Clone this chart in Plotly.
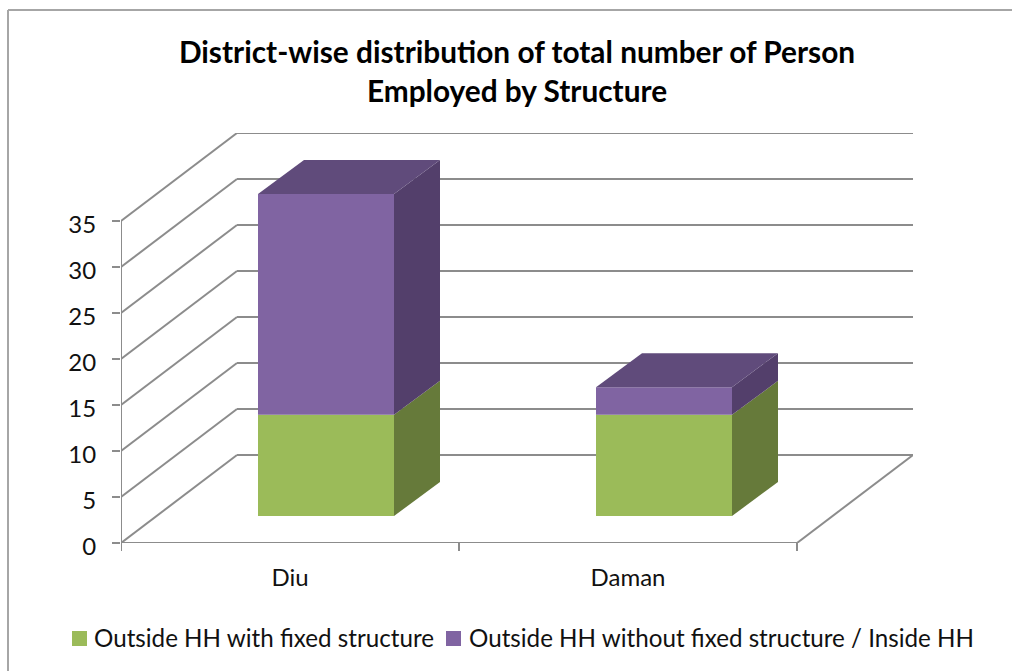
import plotly.graph_objects as go

# Data
categories = ["Diu", "Daman"]
with_fixed = [11, 11]
without_fixed = [24, 3]
series_names = ["Outside HH with fixed structure", "Outside HH without fixed structure / Inside HH"]
y_ticks = [0, 5, 10, 15, 20, 25, 30, 35]
title = "<b>District-wise distribution of total number of Person<br>Employed by Structure</b>"

# Styles / pseudo-3D projection, in axis units
W, H = 1012, 671
L, R, T, B = 121, 99, 133, 128
PX_X = 338.0          # pixels per category
PX_Y = 46.0 / 5       # pixels per value unit
x_lo = -0.5
x_hi = x_lo + (W - L - R) / PX_X
y_hi = (H - T - B) / PX_Y
WALL_DX, WALL_DY = 116 / PX_X, 88 / PX_Y
BAR_SHIFT_X = 36 / PX_X
FLOOR = 27 / PX_Y
BAR_W = 136 / PX_X
DEPTH_DX, DEPTH_DY = 46 / PX_X, 34 / PX_Y
GRAY = "#8C8C8C"
GREEN, GREEN_SIDE = "#9BBB59", "#667A3A"
PURPLE, PURPLE_SIDE, PURPLE_TOP = "#8064A2", "#533F6B", "#604B7B"
FONT = "Lato, Carlito, Calibri, sans-serif"

xpos = [i + BAR_SHIFT_X for i in range(len(categories))]
fig = go.Figure()

# front faces
fig.add_trace(go.Bar(x=xpos, y=with_fixed, base=[FLOOR] * len(xpos), width=BAR_W,
                     name=series_names[0], showlegend=False, marker=dict(color=GREEN, line=dict(width=0))))
fig.add_trace(go.Bar(x=xpos, y=without_fixed, base=[FLOOR + v for v in with_fixed], width=BAR_W,
                     name=series_names[1], showlegend=False, marker=dict(color=PURPLE, line=dict(width=0))))

def face(xs, ys, color):
    fig.add_trace(go.Scatter(x=xs, y=ys, mode="lines", fill="toself", fillcolor=color,
                             line=dict(width=0, color=color), showlegend=False, hoverinfo="skip"))

for x0, a, b in zip(xpos, with_fixed, without_fixed):
    r = x0 + BAR_W / 2
    l = x0 - BAR_W / 2
    y1 = FLOOR + a
    y2 = y1 + b
    face([r, r + DEPTH_DX, r + DEPTH_DX, r, r], [FLOOR, FLOOR + DEPTH_DY, y1 + DEPTH_DY, y1, FLOOR], GREEN_SIDE)
    face([r, r + DEPTH_DX, r + DEPTH_DX, r, r], [y1, y1 + DEPTH_DY, y2 + DEPTH_DY, y2, y1], PURPLE_SIDE)
    face([l, r, r + DEPTH_DX, l + DEPTH_DX, l], [y2, y2, y2 + DEPTH_DY, y2 + DEPTH_DY, y2], PURPLE_TOP)

# walls and floor, below the marks
shapes = []
def seg(x0, y0, x1, y1):
    shapes.append(dict(type="line", layer="below", xref="x", yref="y", x0=x0, y0=y0, x1=x1, y1=y1,
                       line=dict(color=GRAY, width=2)))

n = len(categories)
for v in y_ticks:
    seg(x_lo, v, x_lo + WALL_DX, v + WALL_DY)
    seg(x_lo + WALL_DX, v + WALL_DY, x_lo + n + WALL_DX, v + WALL_DY)
seg(x_lo + n, 0, x_lo + n + WALL_DX, WALL_DY)
seg(x_lo, 0, x_lo + n, 0)
seg(x_lo, 0, x_lo, y_ticks[-1])
# category boundary ticks
fw, fh = W - L - R, H - T - B
for i in range(n + 1):
    shapes.append(dict(type="line", layer="below", xref="x", yref="paper", x0=x_lo + i, x1=x_lo + i,
                       y0=0, y1=-8 / fh, line=dict(color=GRAY, width=2)))
# chart frame (top and left edges)
frame = dict(color="#A6A6A6", width=2)
shapes.append(dict(type="line", layer="below", xref="paper", yref="paper",
                   x0=(8 - L) / fw, x1=(W - L) / fw, y0=(H - B - 10) / fh, y1=(H - B - 10) / fh, line=frame))
shapes.append(dict(type="line", layer="below", xref="paper", yref="paper",
                   x0=(8 - L) / fw, x1=(8 - L) / fw, y0=(H - B - 10) / fh, y1=-B / fh, line=frame))

# legend swatches and labels
annotations = []
LEG_Y = 638
for sx, tx, color, name in zip([72, 446], [93, 468], [GREEN, PURPLE], series_names):
    shapes.append(dict(type="rect", layer="above", xref="paper", yref="paper",
                       x0=(sx - L) / fw, x1=(sx + 15 - L) / fw,
                       y0=(H - B - LEG_Y - 8) / fh, y1=(H - B - LEG_Y + 7) / fh,
                       fillcolor=color, line=dict(width=0)))
    annotations.append(dict(text=name, xref="paper", yref="paper", x=(tx - L) / fw, y=(H - B - LEG_Y + 1) / fh,
                            xanchor="left", yanchor="middle", showarrow=False, xshift=-1,
                            font=dict(family=FONT, size=24.2, color="#111111")))

fig.update_layout(
    width=W, height=H, autosize=False,
    margin=dict(l=L, r=R, t=T, b=B, pad=0),
    paper_bgcolor="white", plot_bgcolor="white",
    font=dict(family=FONT, size=24, color="#111111"),
    title=dict(text=title, x=517 / W, xanchor="center", y=1 - 63 / H, yanchor="middle",
               font=dict(family=FONT, size=29.8, color="#000000")),
    barmode="overlay", shapes=shapes, annotations=annotations, hovermode=False, showlegend=False,
    xaxis=dict(range=[x_lo, x_hi], tickmode="array", tickvals=list(range(n)), ticktext=categories,
               showgrid=False, zeroline=False, showline=False, ticks="", ticklabelstandoff=18,
               automargin=False, tickfont=dict(size=24)),
    yaxis=dict(range=[0, y_hi], tickmode="array", tickvals=y_ticks, showgrid=False, zeroline=False,
               showline=False, ticks="outside", ticklen=8, tickcolor=GRAY, tickwidth=2,
               ticklabelstandoff=11, ticklabelshift=4, automargin=False, tickfont=dict(size=24)),
)
fig.write_html("out.html", config={"displayModeBar": False},
               post_script="document.body.style.margin='0';")
